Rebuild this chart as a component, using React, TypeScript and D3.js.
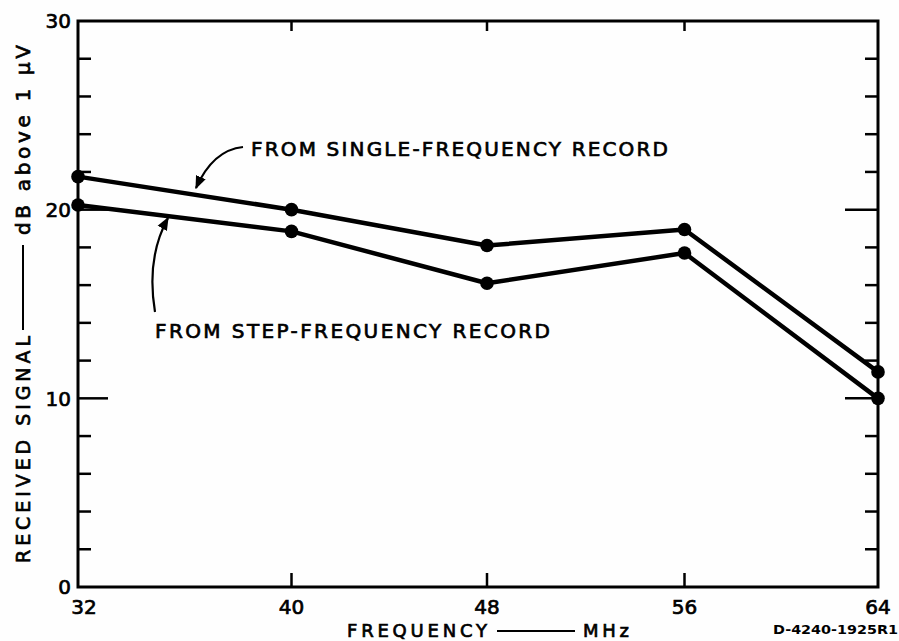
import React from "react";
import * as d3 from "d3";

const frequencies = [32, 40, 48, 56, 64];
const singleFrequency = [21.75, 20.0, 18.1, 18.95, 11.4];
const stepFrequency = [20.25, 18.85, 16.1, 17.7, 10.0];
const xTickLabels = ["32", "40", "48", "56", "64"];
const yTickLabels = [0, 10, 20, 30];
const yMinorTicks = [2, 4, 6, 8, 12, 14, 16, 18, 22, 24, 26, 28];

const W = 899;
const H = 641;
const FONT = "'DejaVu Sans', 'Liberation Sans', sans-serif";
const med = { stroke: "#000", strokeWidth: 0.7, fill: "#000" };

export default function App() {
  // hand-drawn axis: tick positions are slightly uneven, so use a polylinear scale
  const x = d3.scaleLinear().domain(frequencies).range([78, 291.5, 487, 684.5, 878]);
  const y = d3.scaleLinear().domain([0, 30]).range([587, 21]);
  const left = x(32);
  const right = x(64);
  const top = y(30);
  const bottom = y(0);

  const line = d3
    .line<number>()
    .x((_, i) => x(frequencies[i]))
    .y((d) => y(d));

  const series = [singleFrequency, stepFrequency];

  return (
    <svg
      width={W}
      height={H}
      style={{ position: "absolute", left: 0, top: 0, background: "#fefefe" }}
      fontFamily={FONT}
    >
      <defs>
        <marker id="ah" viewBox="0 0 10 10" refX="9" refY="5" markerWidth="6" markerHeight="6" orient="auto">
          <path d="M0,1 L10,5 L0,9 Z" fill="#000" />
        </marker>
      </defs>
      <rect x={0} y={0} width={W} height={H} fill="#fefefe" />

      {/* frame */}
      <rect x={left} y={top} width={right - left} height={bottom - top} fill="none" stroke="#000" strokeWidth={3} />

      {/* y ticks */}
      {yMinorTicks.map((t) => (
        <g key={"ym" + t}>
          <line x1={left} x2={left + 13} y1={y(t)} y2={y(t)} stroke="#000" strokeWidth={2.5} />
          <line x1={right} x2={right - 13} y1={y(t)} y2={y(t)} stroke="#000" strokeWidth={2.5} />
        </g>
      ))}
      {[10, 20].map((t) => (
        <g key={"yM" + t}>
          <line x1={left} x2={left + 30} y1={y(t)} y2={y(t)} stroke="#000" strokeWidth={2.5} />
          <line x1={right} x2={right - 33} y1={y(t)} y2={y(t)} stroke="#000" strokeWidth={2.5} />
        </g>
      ))}
      {yTickLabels.map((t) => (
        <text key={"yl" + t} x={left - 7} y={y(t)} dy="0.36em" textAnchor="end" fontSize={20} {...med}>
          {t}
        </text>
      ))}

      {/* x ticks */}
      {frequencies.slice(1, -1).map((f) => (
        <g key={"xt" + f}>
          <line x1={x(f)} x2={x(f)} y1={bottom} y2={bottom - 14} stroke="#000" strokeWidth={2.5} />
          <line x1={x(f)} x2={x(f)} y1={top} y2={top + 10} stroke="#000" strokeWidth={2.5} />
        </g>
      ))}
      {frequencies.map((f, i) => (
        <text key={"xl" + f} x={x(f) + (i === 0 ? 6 : 0)} y={614} textAnchor="middle" fontSize={20} {...med}>
          {xTickLabels[i]}
        </text>
      ))}

      {/* series */}
      {series.map((s, k) => (
        <g key={"s" + k}>
          <path d={line(s) || ""} fill="none" stroke="#000" strokeWidth={4.5} strokeLinejoin="round" />
          {s.map((v, i) => (
            <circle key={i} cx={x(frequencies[i])} cy={y(v)} r={6.8} fill="#000" />
          ))}
        </g>
      ))}

      {/* annotations */}
      <text x={251} y={156} fontSize={20} textLength={417} lengthAdjust="spacing" {...med}>
        FROM SINGLE-FREQUENCY RECORD
      </text>
      <path d="M243,147 Q213,150 196,188" fill="none" stroke="#000" strokeWidth={2.2} markerEnd="url(#ah)" />
      <text x={155} y={338} fontSize={20} textLength={395} lengthAdjust="spacing" {...med}>
        FROM STEP-FREQUENCY RECORD
      </text>
      <path d="M155,312 Q146,258 168,218" fill="none" stroke="#000" strokeWidth={2.2} markerEnd="url(#ah)" />

      {/* x-axis title */}
      <text x={347} y={637} fontSize={18} textLength={140} lengthAdjust="spacing" {...med}>
        FREQUENCY
      </text>
      <line x1={497} x2={575} y1={631} y2={631} stroke="#000" strokeWidth={2} />
      <text x={583} y={637} fontSize={18} textLength={46} lengthAdjust="spacing" {...med}>
        MHz
      </text>

      {/* y-axis title */}
      <g transform="translate(30,0) rotate(-90)">
        <text x={-563} y={0} fontSize={19} textLength={227} lengthAdjust="spacing" {...med}>
          RECEIVED SIGNAL
        </text>
        <line x1={-330} x2={-245} y1={-7} y2={-7} stroke="#000" strokeWidth={2} />
        <text x={-235} y={0} fontSize={20} textLength={190} lengthAdjust="spacing" {...med}>
          dB above 1 μV
        </text>
      </g>

      {/* figure id */}
      <text x={773} y={634} fontSize={12} fontWeight="bold" textLength={125} lengthAdjust="spacingAndGlyphs" fill="#000">
        D-4240-1925R1
      </text>
    </svg>
  );
}
